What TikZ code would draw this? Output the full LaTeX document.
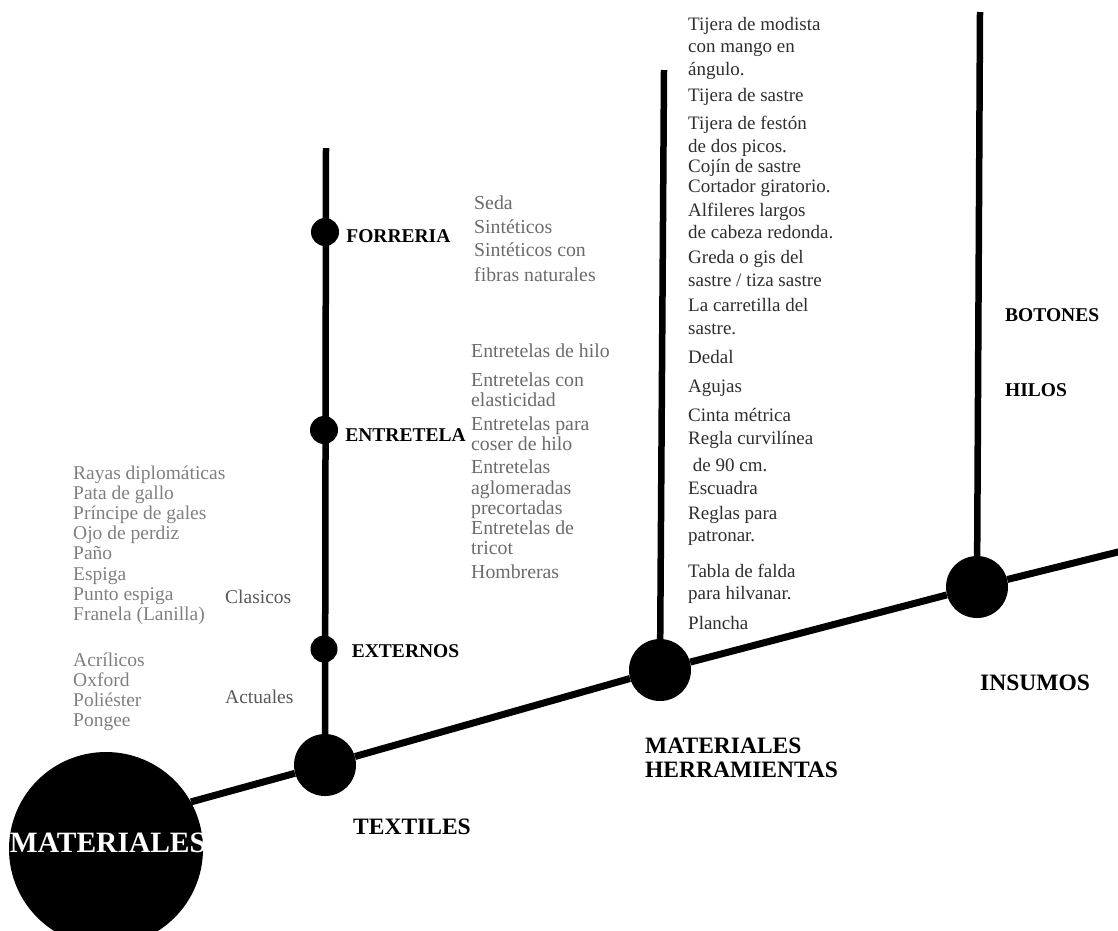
\documentclass[tikz,border=0pt]{standalone}
\usepackage{fontspec}
\setmainfont{Liberation Serif}
\usetikzlibrary{positioning}
\definecolor{lightlist}{gray}{0.50}
\definecolor{midlist}{gray}{0.42}
\definecolor{darklist}{gray}{0.18}
\tikzset{%
  % Specifications for style of nodes:
          hub/.style = {circle, fill=black, inner sep=0pt, minimum size=62pt},
          dot/.style = {circle, fill=black, inner sep=0pt, minimum size=28pt},
        title/.style = {anchor=west, inner sep=0pt, align=left,
                        font=\bfseries\fontsize{23.5}{24}\selectfont},
       branch/.style = {anchor=west, inner sep=0pt,
                        font=\bfseries\fontsize{19.5}{20}\selectfont},
        group/.style = {anchor=west, inner sep=0pt, text=darklist!80!white,
                        font=\fontsize{19.5}{20}\selectfont},
      leftlist/.style = {anchor=west, inner sep=0pt, align=left, text=lightlist,
                        font=\fontsize{19.5}{20.2}\selectfont},
       midlist/.style = {anchor=west, inner sep=0pt, align=left, text=midlist,
                        font=\fontsize{19.8}{20}\selectfont},
      toollist/.style = {anchor=west, inner sep=0pt, align=left, text=darklist,
                        font=\fontsize{19}{22.5}\selectfont},
         axis/.style = {line width=7pt},
         stem/.style = {line width=6.5pt},
}
\begin{document}
\begin{tikzpicture}[x=1pt, y=-1pt]
  \useasboundingbox (0,0) rectangle (1118,930);
  \clip (0,0) rectangle (1118,930);
  % Specification of nodes (position, etc.)
  \node (mat)  [hub, minimum size=194pt] at (106,849) {};
  \node (matlabel) [text=white, inner sep=0pt,
        font=\bfseries\fontsize{29.5}{29.5}\selectfont] at (108,843) {MATERIALES};
  \node (tex)  [hub] at (325,765) {};
  \node (herr) [hub] at (660,670) {};
  \node (ins)  [hub] at (977,587) {};
  \coordinate (axisend) at (1130,549);
  \coordinate (textop)  at (326,148);
  \coordinate (herrtop) at (664,70);
  \coordinate (instop)  at (980,12);

  \node (forreria)  [dot] at (325,232) {};
  \node (entretela) [dot] at (324,430) {};
  \node (externos)  [dot, minimum size=27pt] at (324,649) {};

  % Specification of lines between nodes specified above
  \draw[axis] (mat.29) -- (tex) -- (herr) -- (ins) -- (axisend);
  \draw[stem] (textop) -- (tex);
  \draw[stem] (herrtop) -- (herr);
  \draw[stem] (instop) -- (ins);

  % branch names
  \node (forrerialabel)  [branch, right=7pt of forreria, yshift=-4pt]  {FORRERIA};
  \node (entretelalabel) [branch, right=7pt of entretela, yshift=-5pt] {ENTRETELA};
  \node (externoslabel)  [branch, right=14pt of externos, yshift=-2pt] {EXTERNOS};
  \node (botones) [branch] at (1005,315) {BOTONES};
  \node (hilos)   [branch] at (1005,390) {HILOS};

  \node (texlabel)  [title] at (353,827) {TEXTILES};
  \node (herrlabel) [title] at (645,758) {MATERIALES\\HERRAMIENTAS};
  \node (inslabel)  [title] at (980,683) {INSUMOS};

  % externos
  \node (clasicos) [group] at (225,597) {Clasicos};
  \node (actuales) [group] at (225,697) {Actuales};
  \node (clasicoslist) [leftlist] at (73,545) {Rayas diplomáticas\\Pata de gallo\\Príncipe de gales\\Ojo de perdiz\\Paño\\Espiga\\Punto espiga\\Franela (Lanilla)};
  \node (actualeslist) [leftlist] at (73,692) {Acrílicos\\Oxford\\Poliéster\\Pongee};

  % forreria
  \node (seda)  [midlist] at (474,203) {Seda};
  \node (sint)  [midlist] at (474,227) {Sintéticos};
  \node (sintf) [midlist, font=\fontsize{19.8}{25}\selectfont] at (474,262) {Sintéticos con\\fibras naturales};

  % entretela
  \node (ent1) [midlist] at (471,351) {Entretelas de hilo};
  \node (ent2) [midlist] at (471,390) {Entretelas con\\elasticidad};
  \node (ent3) [midlist] at (471,434) {Entretelas para\\coser de hilo};
  \node (ent4) [midlist, font=\fontsize{19.8}{20.5}\selectfont] at (471,489.5) {Entretelas\\aglomeradas\\precortadas};
  \node (ent5) [midlist] at (471,538) {Entretelas de\\tricot};
  \node (ent6) [midlist] at (471,572) {Hombreras};

  % herramientas
  \node (tool1)  [toollist] at (688,48)    {Tijera de modista\\con mango en\\ángulo.};
  \node (tool2)  [toollist] at (688,97)    {Tijera de sastre};
  \node (tool3)  [toollist] at (688,136.5) {Tijera de festón\\de dos picos.};
  \node (tool4)  [toollist] at (688,168)   {Cojín de sastre};
  \node (tool5)  [toollist] at (688,188)   {Cortador giratorio.};
  \node (tool6)  [toollist] at (688,221)   {Alfileres largos\\de cabeza redonda.};
  \node (tool7)  [toollist] at (688,268.5) {Greda o gis del\\sastre / tiza sastre};
  \node (tool8)  [toollist] at (688,316.5) {La carretilla del\\sastre.};
  \node (tool9)  [toollist] at (688,357)   {Dedal};
  \node (tool10) [toollist] at (688,388)   {Agujas};
  \node (tool11) [toollist] at (688,415)   {Cinta métrica};
  \node (tool12) [toollist, font=\fontsize{19}{27}\selectfont] at (688,451.5) {Regla curvilínea\\\ de 90 cm.};
  \node (tool13) [toollist] at (688,488)   {Escuadra};
  \node (tool14) [toollist] at (688,526)   {Reglas para\\patronar.};
  \node (tool15) [toollist] at (688,584)   {Tabla de falda\\para hilvanar.};
  \node (tool16) [toollist] at (688,623)   {Plancha};
\end{tikzpicture}
\end{document}
